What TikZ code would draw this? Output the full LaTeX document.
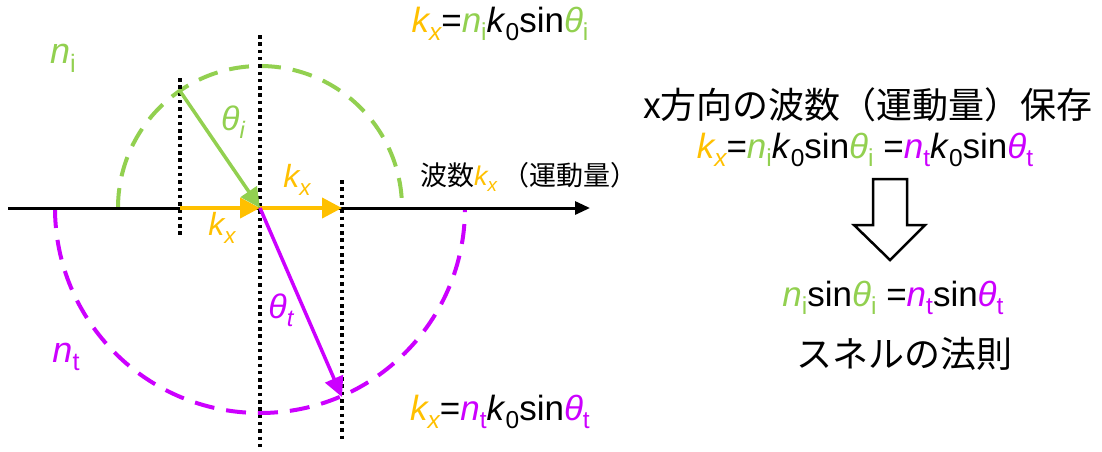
\documentclass[tikz,border=0pt]{standalone}
\usepackage{fontspec}
\usepackage{graphicx}
\setmainfont{Liberation Sans}
\newfontfamily\jp{Noto Sans CJK JP}
\usetikzlibrary{arrows.meta}
\definecolor{Green}{HTML}{92D050}
\definecolor{Orange}{HTML}{FFC000}
\definecolor{Magenta}{HTML}{CC00FF}
\newcommand\fsz[1]{\fontsize{#1}{#1}\selectfont}
\newcommand\sbs[1]{\raisebox{-0.24em}{\scalebox{0.7}{#1}}}
\newcommand\kX{\textcolor{Orange}{\textit{k\sbs{x}}}}
\newcommand\kO{\textit{k}\sbs{0}}
\newcommand\nI{\textcolor{Green}{\textit{n}\sbs{i}}}
\newcommand\nT{\textcolor{Magenta}{\textit{n}\sbs{t}}}
\newcommand\thI{\textcolor{Green}{\textit{θ}\sbs{i}}}
\newcommand\thT{\textcolor{Magenta}{\textit{θ}\sbs{t}}}
\tikzset{halfi/.style={draw=Green,line width=4pt,dash pattern=on 20pt off 12pt},halft/.style={draw=Magenta,line width=4pt,dash pattern=on 20pt off 12pt},dots/.style={line width=3.5pt,dash pattern=on 3.5pt off 3.8pt},axis/.style={line width=3pt,-{Triangle[length=15pt,width=13pt]}},kvec/.style={draw=Orange,line width=4pt,-{Triangle[length=20pt,width=20pt]}},ray/.style={line width=3.5pt,-{Triangle[length=20pt,width=19pt]}},lbl/.style={inner sep=0pt,font=\fsz{32}},eq/.style={inner sep=0pt,font=\fsz{35}}}

\begin{document}
\begin{tikzpicture}[x=1pt,y=-1pt]
  \useasboundingbox (0,0) rectangle (1102,451);
  \coordinate (O) at (260,208);
  \coordinate (L) at (8,208);\coordinate (R) at (590,208);
  \coordinate (Pi) at (180,91);\coordinate (Pt) at (342,397);
  \coordinate (Ai) at (180,208);\coordinate (At) at (342,208);
  % wave vector circles
  \draw[halfi]([xshift=-142pt]O) arc[start angle=180,end angle=0,radius=142pt];
  \draw[halft]([xshift=-205pt]O) arc[start angle=180,end angle=360,radius=205pt];
  % normals
  \draw[dots](260,35)--(260,447);
  \draw[dots](180,78)--(180,238);
  \draw[dots](342,180)--(342,440);
  \draw[axis](L)--(R);
  \draw[kvec](Ai)--(O);\draw[kvec](O)--(At);
  \draw[ray,Green](Pi)--(O);
  \draw[ray,Magenta](O)--(Pt);
  \node[lbl](kxlo) at (222,228){\kX};
  \node[lbl](kxup) at (297,180){\kX};
  \node[lbl,font=\fsz{34}](angi) at (233,122){\textcolor{Green}{\textit{θ\sbs{i}}}};
  \node[lbl,font=\fsz{34}](angt) at (281,310){\textcolor{Magenta}{\textit{θ\sbs{t}}}};
  \node[lbl,font=\fsz{36}](medi) at (63,58){\nI};
  \node[lbl,font=\fsz{36}](medt) at (66,357){\nT};
  \node[eq](eqi) at (500,24){\kX=\nI\kO sin\thI};
  \node[eq](eqt) at (500,412){\kX=\nT\kO sin\thT};
  \node[lbl,anchor=west,font=\fsz{27}](wave) at (420,177){{\jp 波数}\kX\hspace{5pt}{\jp （運動量）}};
  % right side
  \node[lbl,font=\fsz{36}\jp](cons) at (868,105){x方向の波数（運動量）保存};
  \node[eq](eqc) at (865,150){\kX=\nI\kO sin\thI{} =\nT\kO sin\thT};
  \draw[line width=2.5pt,line join=miter](873,179)--(907,179)--(907,225)--(925,225)--(890,260)--(854,225)--(873,225)--cycle;
  \node[eq](snell) at (893,298){\nI sin\thI{} =\nT sin\thT};
  \node[lbl,font=\fsz{36}\jp](law) at (904,354){スネルの法則};
\end{tikzpicture}
\end{document}
